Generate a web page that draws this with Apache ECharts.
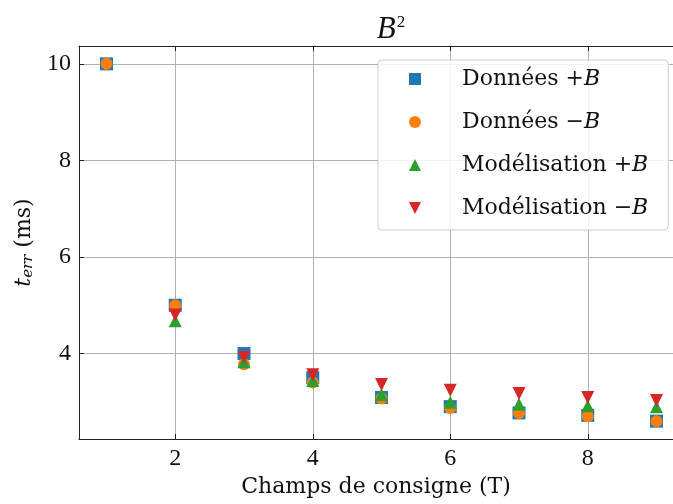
<!DOCTYPE html>
<html><head><meta charset="utf-8">
<script src="https://cdn.jsdelivr.net/npm/echarts@6/dist/echarts.min.js"></script>
<style>html,body{margin:0;padding:0;background:#fff}#c{width:673px;height:504px}</style>
</head><body><div id="c"></div>
<script>
const xValues = [1, 2, 3, 4, 5, 6, 7, 8, 9];
const donneesPlus = [10, 5.0, 4.0, 3.5, 3.09, 2.9, 2.77, 2.72, 2.6];
const donneesMinus = [10, 5.0, 3.78, 3.4, 3.07, 2.87, 2.77, 2.7, 2.6];
const modelPlus = [null, 4.68, 3.83, 3.44, 3.15, 2.99, 2.95, 2.92, 2.9];
const modelMinus = [null, 4.8, 3.92, 3.56, 3.36, 3.24, 3.17, 3.09, 3.03];
const xTicks = [2, 4, 6, 8];
const yTicks = [4, 6, 8, 10];
const seriesNames = ['Données +B', 'Données −B', 'Modélisation +B', 'Modélisation −B'];
const colors = ['#1f77b4', '#ff7f0e', '#2ca02c', '#d62728'];

const FONT = 'DejaVu Serif';
const NUMFONT = 'Liberation Serif';
function pts(arr) {
  return xValues.map((x, i) => [x, arr[i]]).filter(p => p[1] !== null);
}
const chart = echarts.init(document.getElementById('c'), null, {renderer: 'canvas'});
const axisCommon = {
  axisLine: {show: true, lineStyle: {color: '#222', width: 1}},
  axisTick: {show: true, inside: true, length: 5, lineStyle: {color: '#222', width: 1}},
  splitLine: {show: true, lineStyle: {color: '#b0b0b0', width: 1}}
};
// The original plot area continues past the right edge of the picture;
// the visible part ends around x = 9.24.
const X_MIN = 0.6, X_MAX = 9.24;
const option = {
  animation: false,
  backgroundColor: '#fff',
  color: colors,
  title: {
    text: '{b|B}{s|2}',
    left: 386, top: 9, textAlign: 'center',
    textStyle: {
      fontWeight: 'normal',
      rich: {
        b: {fontFamily: NUMFONT, fontStyle: 'italic', fontWeight: 'normal', fontSize: 31, color: '#111'},
        s: {fontFamily: NUMFONT, fontWeight: 'normal', fontSize: 17, color: '#111', verticalAlign: 'top', padding: [0, 0, 14, 1]}
      }
    }
  },
  grid: {left: 79, top: 46, right: 0, bottom: 65, containLabel: false},
  xAxis: [{
    type: 'value', min: X_MIN, max: X_MAX, position: 'bottom',
    name: 'Champs de consigne (T)', nameLocation: 'middle', nameGap: 36,
    nameTextStyle: {fontFamily: FONT, fontSize: 22, color: '#111', padding: [0, 0, 0, 0]},
    axisLine: axisCommon.axisLine,
    axisTick: Object.assign({}, axisCommon.axisTick, {customValues: xTicks}),
    axisLabel: {customValues: xTicks, fontFamily: NUMFONT, fontSize: 24, color: '#111', margin: 8},
    splitLine: axisCommon.splitLine
  }, {
    type: 'value', min: X_MIN, max: X_MAX, position: 'top',
    axisLine: axisCommon.axisLine,
    axisTick: Object.assign({}, axisCommon.axisTick, {customValues: xTicks}),
    axisLabel: {show: false},
    splitLine: {show: false}
  }],
  yAxis: [{
    type: 'value', min: 2.23, max: 10.37, position: 'left',
    name: '{t|t}{sub|err}{n| (ms)}', nameLocation: 'middle', nameGap: 32,
    nameTextStyle: {
      rich: {
        t: {fontFamily: FONT, fontStyle: 'italic', fontSize: 22, color: '#111'},
        sub: {fontFamily: FONT, fontStyle: 'italic', fontSize: 15, color: '#111', verticalAlign: 'bottom', padding: [8, 0, 0, 0]},
        n: {fontFamily: FONT, fontSize: 22, color: '#111'}
      }
    },
    axisLine: axisCommon.axisLine,
    axisTick: Object.assign({}, axisCommon.axisTick, {customValues: yTicks}),
    axisLabel: {customValues: yTicks, fontFamily: NUMFONT, fontSize: 24, color: '#111', margin: 8},
    splitLine: axisCommon.splitLine
  }],
  legend: {
    orient: 'vertical', left: 378, top: 60,
    padding: [8, 20, 11, 31],
    itemGap: 21, itemWidth: 12, itemHeight: 12,
    backgroundColor: 'rgba(255,255,255,0.85)',
    borderColor: '#cccccc', borderWidth: 1, borderRadius: 4,
    data: [
      {name: seriesNames[0], icon: 'rect'},
      {name: seriesNames[1], icon: 'circle'},
      {name: seriesNames[2], icon: 'triangle'},
      {name: seriesNames[3], icon: 'path://M0,0 L10,0 L5,10 Z'}
    ],
    formatter: function (name) {
      return '{sp|}{n|' + name.slice(0, -1) + '}{i|B}';
    },
    textStyle: {
      rich: {
        sp: {width: 36},
        n: {fontFamily: FONT, fontSize: 22, color: '#111', lineHeight: 25},
        i: {fontFamily: FONT, fontStyle: 'italic', fontSize: 22, color: '#111', lineHeight: 25}
      }
    }
  },
  series: [
    {name: seriesNames[0], type: 'scatter', symbol: 'rect', symbolSize: 13, data: pts(donneesPlus), itemStyle: {color: colors[0], opacity: 1}},
    {name: seriesNames[1], type: 'scatter', symbol: 'circle', symbolSize: 12, data: pts(donneesMinus), itemStyle: {color: colors[1], opacity: 1}},
    {name: seriesNames[2], type: 'scatter', symbol: 'triangle', symbolSize: 13, data: pts(modelPlus), itemStyle: {color: colors[2], opacity: 1}},
    {name: seriesNames[3], type: 'scatter', symbol: 'triangle', symbolRotate: 180, symbolSize: 13, data: pts(modelMinus), itemStyle: {color: colors[3], opacity: 1}}
  ]
};
chart.setOption(option);
</script>
</body></html>
